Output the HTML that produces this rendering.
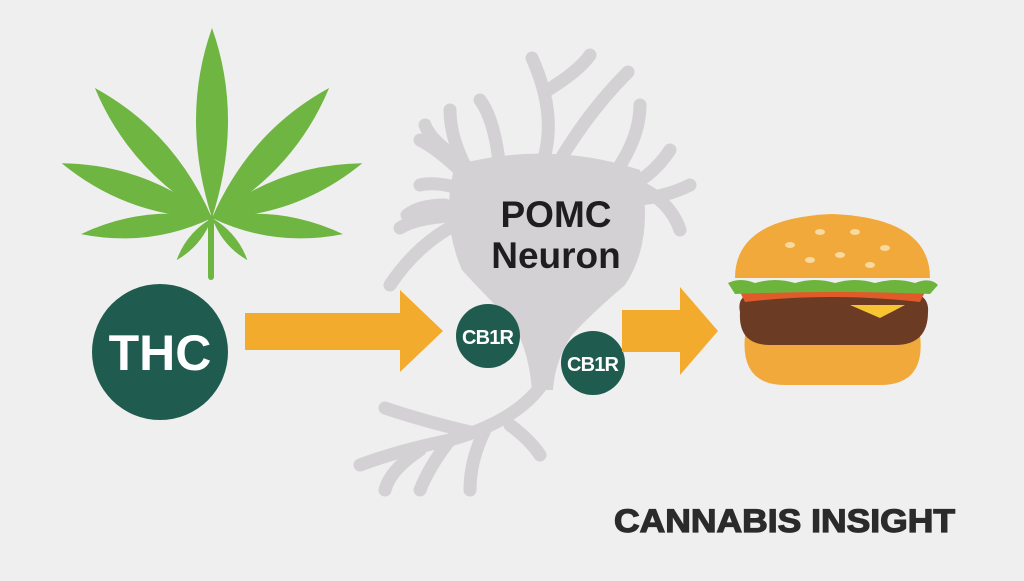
<!DOCTYPE html>
<html><head><style>
html,body{margin:0;padding:0;background:#efefef;}
body{width:1024px;height:576px;overflow:hidden;position:relative;font-family:"Liberation Sans",sans-serif;}
</style></head><body>
<svg width="1024" height="576" viewBox="0 0 1024 576" xmlns="http://www.w3.org/2000/svg">
<rect width="1024" height="576" fill="#efefef"/>
<!-- leaf -->
<g fill="#6fb541">
  <g transform="translate(212,218)">
    <path d="M0,0 Q-32,-100 0,-190 Q32,-100 0,0Z"/>
    <path transform="rotate(-42)" d="M0,0 Q-30,-90 0,-175 Q30,-90 0,0Z"/>
    <path transform="rotate(42)" d="M0,0 Q-30,-90 0,-175 Q30,-90 0,0Z"/>
    <path transform="rotate(-70)" d="M0,0 Q-28,-80 0,-160 Q28,-80 0,0Z"/>
    <path transform="rotate(70)" d="M0,0 Q-28,-80 0,-160 Q28,-80 0,0Z"/>
    <path transform="rotate(-97)" d="M0,0 Q-22,-65 0,-132 Q22,-65 0,0Z"/>
    <path transform="rotate(97)" d="M0,0 Q-22,-65 0,-132 Q22,-65 0,0Z"/>
    <path transform="rotate(-140)" d="M0,0 Q-10,-28 0,-55 Q10,-28 0,0Z"/>
    <path transform="rotate(140)" d="M0,0 Q-10,-28 0,-55 Q10,-28 0,0Z"/>
  </g>
  <rect x="208" y="215" width="6" height="65" rx="3"/>
</g>
<!-- THC -->
<circle cx="160" cy="352" r="68" fill="#1f5c4f"/>
<text x="160" y="370" font-size="50" font-weight="bold" fill="#fff" text-anchor="middle" font-family="Liberation Sans">THC</text>
<!-- arrow 1 -->
<path d="M245,313 H400 V290 L443,331 L400,372 V350 H245Z" fill="#f3ab2e"/>
<!-- neuron -->
<g fill="none" stroke="#d4d1d4" stroke-width="13" stroke-linecap="round" stroke-linejoin="round">
  <path d="M540,170 Q560,120 532,58"/>
  <path d="M548,90 Q580,70 590,55"/>
  <path d="M560,160 Q590,110 628,72"/>
  <path d="M610,180 Q640,140 640,105"/>
  <path d="M620,190 Q650,180 670,150"/>
  <path d="M620,200 Q660,200 690,185"/>
  <path d="M635,185 Q670,200 680,230"/>
  <path d="M470,175 Q450,140 450,110"/>
  <path d="M470,180 Q440,150 420,140"/>
  <path d="M460,160 Q430,140 425,125"/>
  <path d="M480,195 Q440,180 420,185"/>
  <path d="M445,205 Q420,205 407,215"/>
  <path d="M480,215 Q420,215 400,228"/>
  <path d="M465,220 Q420,240 390,285"/>
  <path d="M500,170 Q495,120 480,100"/>
  <path d="M545,380 Q520,420 450,440"/>
  <path d="M470,432 Q420,420 385,408"/>
  <path d="M450,440 Q400,450 360,465"/>
  <path d="M450,440 Q430,465 420,490"/>
  <path d="M485,430 Q470,460 470,490"/>
  <path d="M510,425 Q530,440 540,455"/>
  <path d="M420,450 Q390,470 385,490"/>
</g>
<path d="M455,165 Q550,140 640,170 Q655,240 625,285 Q590,315 572,335 Q555,360 553,390 L532,390 Q528,345 510,320 Q480,290 462,270 Q440,220 455,165Z" fill="#d4d1d4"/>
<text x="556" y="227" font-size="37" font-weight="bold" fill="#1e1e1e" text-anchor="middle">POMC</text>
<text x="556" y="268" font-size="37" font-weight="bold" fill="#1e1e1e" text-anchor="middle">Neuron</text>
<circle cx="488" cy="336" r="32" fill="#1f5c4f"/>
<text x="488" y="344" font-size="20" font-weight="bold" fill="#fff" text-anchor="middle" textLength="52">CB1R</text>
<circle cx="593" cy="363" r="32" fill="#1f5c4f"/>
<text x="593" y="371" font-size="20" font-weight="bold" fill="#fff" text-anchor="middle" textLength="52">CB1R</text>
<!-- arrow 2 -->
<path d="M622,310 H680 V287 L718,331 L680,375 V352 H622Z" fill="#f3ab2e"/>
<!-- burger -->
<path d="M745,335 H920 Q926,385 880,385 H785 Q740,385 745,335Z" fill="#f2a93b"/>
<path d="M740,312 Q735,290 770,290 H895 Q930,290 928,312 Q928,345 895,345 H770 Q738,345 740,312Z" fill="#6b3b24"/>
<path d="M775,305 H905 L880,318 L850,305Z" fill="#f7c531"/>
<path d="M740,292 Q830,278 925,292 L920,302 Q830,292 745,302Z" fill="#e15a2a"/>
<path d="M728,283 Q740,277 755,283 Q775,277 795,283 Q815,277 835,283 Q855,277 875,283 Q895,277 915,283 Q930,277 938,285 L930,294 Q835,290 735,294Z" fill="#6cb43c"/>
<path d="M735,278 Q735,218 832,214 Q930,218 930,278Z" fill="#f2a93b"/>
<g fill="#f8d9a0">
<ellipse cx="790" cy="245" rx="5" ry="3"/><ellipse cx="820" cy="232" rx="5" ry="3"/><ellipse cx="855" cy="232" rx="5" ry="3"/><ellipse cx="885" cy="248" rx="5" ry="3"/><ellipse cx="840" cy="255" rx="5" ry="3"/><ellipse cx="810" cy="260" rx="5" ry="3"/><ellipse cx="870" cy="265" rx="5" ry="3"/>
</g>
<text x="614" y="532" font-size="32" font-weight="bold" fill="#2b2b2b" textLength="341" lengthAdjust="spacingAndGlyphs" stroke="#2b2b2b" stroke-width="1.2" font-family="Liberation Sans">CANNABIS INSIGHT</text>
</svg>
</body></html>
